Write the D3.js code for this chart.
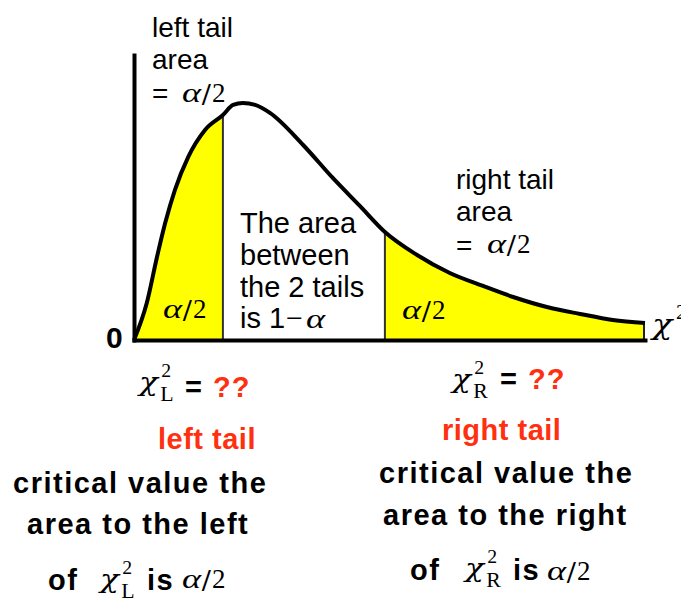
<!DOCTYPE html>
<html>
<head>
<meta charset="utf-8">
<script src="https://cdn.jsdelivr.net/npm/d3@7/dist/d3.min.js"></script>
<style>
  html, body { margin: 0; padding: 0; background: #fff; }
  svg { display: block; }
  .sans { font-family: "Liberation Sans", Arial, Helvetica, sans-serif; fill: #000; }
  .serif { font-family: "Liberation Serif", "Times New Roman", serif; fill: #000; }
  .greek { font-family: "Liberation Serif", "Times New Roman", serif; font-style: italic; fill: #000; }
  .chi { font-family: "DejaVu Serif", "Liberation Serif", serif; font-style: italic; fill: #000; }
  .bold { font-weight: bold; }
  .red { fill: #ff3010; }
</style>
</head>
<body>
<script>
// Chi-square density curve, sampled as (value, density) pairs
const chiValues = [0, 0.25, 0.45, 0.61, 0.80, 1.06, 1.39, 1.74, 1.94, 2.13, 2.37, 2.66,
                   3.31, 3.89, 4.42, 4.91, 5.54, 6.18, 6.83, 7.42, 8.08, 8.73, 9.37, 10];
const densities = [0, 0.0288, 0.0647, 0.0911, 0.1168, 0.1425, 0.1636, 0.1753, 0.1831, 0.1846, 0.1831, 0.1769,
                   0.1519, 0.1262, 0.1044, 0.0841, 0.0662, 0.0522, 0.0421, 0.0335, 0.0257, 0.0203, 0.0156, 0.0132];

// Critical values bounding the two shaded tails
const criticalLeft = 1.74;
const criticalRight = 4.91;

// Axis extents
const chiDomain = [0, 10];
const densityDomain = [0, 0.222];

const width = 681, height = 598;

const svg = d3.select("body").append("svg")
  .attr("width", width)
  .attr("height", height);

const x = d3.scaleLinear().domain(chiDomain).range([134, 645]);
const y = d3.scaleLinear().domain(densityDomain).range([340, 55]);

const points = chiValues.map((v, i) => ({ x: v, y: densities[i] }));

const defs = svg.append("defs");
defs.append("filter").attr("id", "soft")
  .append("feGaussianBlur").attr("stdDeviation", 0.6);

defs.append("clipPath").attr("id", "tailLeft")
  .append("rect")
  .attr("x", x(chiDomain[0])).attr("y", 0)
  .attr("width", x(criticalLeft) - x(chiDomain[0])).attr("height", height);
defs.append("clipPath").attr("id", "tailRight")
  .append("rect")
  .attr("x", x(criticalRight)).attr("y", 0)
  .attr("width", x(chiDomain[1]) - x(criticalRight)).attr("height", height);

const area = d3.area()
  .x(d => x(d.x))
  .y0(y(0))
  .y1(d => y(d.y))
  .curve(d3.curveMonotoneX);

const line = d3.line()
  .x(d => x(d.x))
  .y(d => y(d.y))
  .curve(d3.curveMonotoneX);

// Shaded tails
["tailLeft", "tailRight"].forEach(id => {
  svg.append("path")
    .datum(points)
    .attr("clip-path", `url(#${id})`)
    .attr("d", area)
    .attr("fill", "#ffff00");
});

// Critical value markers
const densityAt = v => densities[chiValues.indexOf(v)];
[criticalLeft, criticalRight].forEach(v => {
  svg.append("line")
    .attr("x1", x(v)).attr("x2", x(v))
    .attr("y1", y(0)).attr("y2", y(densityAt(v)))
    .attr("stroke", "#333").attr("stroke-width", 2);
});
// closing edge of the right tail
svg.append("line")
  .attr("x1", x(chiDomain[1]) - 1).attr("x2", x(chiDomain[1]) - 1)
  .attr("y1", y(0)).attr("y2", y(densities[densities.length - 1]))
  .attr("stroke", "#222").attr("stroke-width", 2);

// Axes (lines only, no ticks)
const xAxis = svg.append("g")
  .attr("transform", `translate(0,${y(0)})`)
  .call(d3.axisBottom(x).tickValues([]).tickSizeOuter(0));
const yAxis = svg.append("g")
  .attr("transform", `translate(${x(0)},0)`)
  .call(d3.axisLeft(y).tickValues([]).tickSizeOuter(0));
[xAxis, yAxis].forEach(g => g.select(".domain")
  .attr("stroke", "#000").attr("stroke-width", 4).attr("stroke-linecap", "square"));

// Density curve
svg.append("path")
  .datum(points)
  .attr("d", line)
  .attr("fill", "none")
  .attr("stroke", "#000")
  .attr("stroke-width", 4)
  .attr("filter", "url(#soft)");

// ---- text helpers ----
function sansText(str, px, py, size, cls = "", spacing = 0) {
  return svg.append("text")
    .attr("class", "sans " + cls)
    .attr("x", px).attr("y", py)
    .style("font-size", size + "px")
    .style("letter-spacing", spacing + "px")
    .text(str);
}

// a wide italic alpha
function alpha(px, py) {
  svg.append("text")
    .attr("class", "greek")
    .attr("transform", `translate(${px},${py}) scale(1.3,0.95)`)
    .style("font-size", "28px")
    .text("α");
}

// alpha over two, e.g. the tail area
function alphaHalf(px, py) {
  alpha(px, py);
  svg.append("text")
    .attr("class", "serif")
    .attr("x", px + 20).attr("y", py + 3)
    .style("font-size", "31px")
    .style("font-weight", "bold")
    .text("/");
  svg.append("text")
    .attr("class", "serif")
    .attr("x", px + 30).attr("y", py)
    .style("font-size", "27px")
    .text("2");
}

// chi-squared symbol with an optional subscript
function chiSquared(px, py, size, sub) {
  svg.append("text")
    .attr("class", "chi")
    .attr("transform", `translate(${px},${py}) scale(1.2,1)`)
    .style("font-size", size + "px")
    .text("χ");
  svg.append("text")
    .attr("class", "serif")
    .attr("x", px + size * 0.86).attr("y", py - size * 0.52)
    .style("font-size", (size * 0.76) + "px")
    .text("2");
  if (sub) {
    svg.append("text")
      .attr("class", "serif")
      .attr("x", px + size * 0.82).attr("y", py + size * 0.4)
      .style("font-size", (size * 0.84) + "px")
      .text(sub);
  }
}

// ---- chart labels ----
sansText("left tail", 152, 37, 28);
sansText("area", 152, 69, 28);
sansText("=", 152, 103, 28);
alphaHalf(182, 102);

sansText("right tail", 456, 189, 28);
sansText("area", 456, 221, 28);
sansText("=", 456, 255, 28);
alphaHalf(487, 253);

sansText("The area", 240, 233, 29);
sansText("between", 240, 265, 29);
sansText("the 2 tails", 240, 297, 29);
sansText("is 1", 240, 328, 29);
svg.append("text").attr("class", "serif")
  .attr("x", 286).attr("y", 328)
  .style("font-size", "30px")
  .text("−");
alpha(306, 328);

alphaHalf(163, 318);
alphaHalf(402, 319);

sansText("0", 106, 348, 30, "bold");
chiSquared(652, 334, 28, null);

// ---- critical value captions ----
chiSquared(139, 391, 26, "L");
sansText("=", 185, 397, 29, "bold");
sansText("??", 213, 397, 29, "bold red", 1);
sansText("left tail", 158, 449, 29, "bold red", 0.5);
sansText("critical value the", 13, 493, 29, "bold", 1.5);
sansText("area to the left", 27, 534, 29, "bold", 1.5);
sansText("of", 48, 590, 29, "bold", 1.5);
chiSquared(100, 588, 26, "L");
sansText("is", 147, 590, 29, "bold", 1.5);
alphaHalf(182, 588);

chiSquared(452, 388, 26, "R");
sansText("=", 500, 389, 29, "bold");
sansText("??", 528, 389, 29, "bold red", 1);
sansText("right tail", 442, 440, 29, "bold red", 0.5);
sansText("critical value the", 379, 483, 29, "bold", 1.5);
sansText("area to the right", 383, 525, 29, "bold", 1.5);
sansText("of", 410, 580, 29, "bold", 1.5);
chiSquared(465, 577, 26, "R");
sansText("is", 513, 580, 29, "bold", 1.5);
alphaHalf(547, 580);
</script>
</body>
</html>
